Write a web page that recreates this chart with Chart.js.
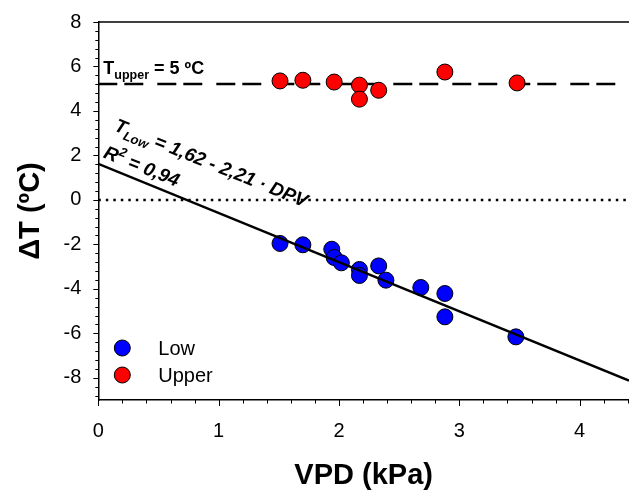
<!DOCTYPE html>
<html>
<head>
<meta charset="utf-8">
<script src="https://cdn.jsdelivr.net/npm/chart.js@4.4.0/dist/chart.umd.min.js"></script>
<style>
  html, body { margin: 0; padding: 0; background: #fff; }
  canvas { display: block; }
</style>
</head>
<body>
<canvas id="myChart" width="629" height="492"></canvas>
<script>
// canopy - air temperature difference vs vapour pressure deficit
const lowVpd = [1.51, 1.70, 1.94, 1.96, 2.02, 2.17, 2.17, 2.33, 2.39, 2.68, 2.88, 2.88, 3.47];
const lowDeltaT = [-1.96, -2.02, -2.22, -2.59, -2.83, -3.13, -3.40, -2.97, -3.61, -3.94, -4.21, -5.26, -6.16];
const upperVpd = [1.51, 1.70, 1.96, 2.17, 2.33, 2.17, 2.88, 3.48];
const upperDeltaT = [5.35, 5.38, 5.30, 5.16, 4.93, 4.53, 5.75, 5.26];

// fitted line T_Low = 1.62 - 2.21 * VPD
const fitIntercept = 1.62;
const fitSlope = -2.21;
const lineVpd = [0, 4.41];

const xTicks = [0, 1, 2, 3, 4];
const yTicks = [-8, -6, -4, -2, 0, 2, 4, 6, 8];

const FONT = "'Liberation Sans', Arial, sans-serif";
Chart.defaults.font.family = FONT;
Chart.defaults.color = '#000';

const upperMean = upperDeltaT.reduce((s, v) => s + v, 0) / upperDeltaT.length;

const toPoints = (xs, ys) => xs.map((v, i) => ({ x: v, y: ys[i] }));

// setup
const data = {
  datasets: [
    {
      label: 'Low',
      data: toPoints(lowVpd, lowDeltaT),
      backgroundColor: '#0000ff',
      borderColor: '#000',
      borderWidth: 1,
      pointRadius: 8,
      order: 3,
    },
    {
      label: 'Upper',
      data: toPoints(upperVpd, upperDeltaT),
      backgroundColor: '#ff0000',
      borderColor: '#000',
      borderWidth: 1,
      pointRadius: 8,
      order: 1,
    },
    {
      label: 'fit',
      data: lineVpd.map(v => ({ x: v, y: fitIntercept + fitSlope * v })),
      showLine: true,
      borderColor: '#000',
      borderWidth: 2.5,
      pointRadius: 0,
      order: 2,
    },
    {
      label: 'upper level',
      data: lineVpd.map(v => ({ x: v, y: upperMean })),
      showLine: true,
      borderColor: '#000',
      borderWidth: 2.5,
      borderDash: [19, 7, 19, 14],
      pointRadius: 0,
      order: 4,
    },
    {
      label: 'zero',
      data: lineVpd.map(v => ({ x: v, y: 0 })),
      showLine: true,
      borderColor: '#000',
      borderWidth: 2.5,
      borderDash: [2.5, 5],
      pointRadius: 0,
      order: 5,
    },
  ],
};

// frame, minor ticks, legend and the two text notes
const extras = {
  id: 'extras',
  afterDraw(chart) {
    const { ctx, chartArea: a, scales: { x, y } } = chart;
    ctx.save();
    ctx.strokeStyle = '#000';
    ctx.lineWidth = 1.5;
    ctx.beginPath();
    ctx.moveTo(a.left, a.top);
    ctx.lineTo(a.right, a.top);
    ctx.stroke();

    ctx.lineWidth = 1;
    for (let i = 0; i <= 22; i++) {
      const px = Math.round(x.getPixelForValue(i * 0.2)) + 0.5;
      const len = i % 5 === 0 ? 6 : 3.5;
      ctx.beginPath();
      ctx.moveTo(px, a.bottom);
      ctx.lineTo(px, a.bottom + len);
      ctx.stroke();
    }
    for (let i = 0; i <= 42; i++) {
      const py = Math.round(y.getPixelForValue(8 - i * 0.4)) + 0.5;
      const len = i % 5 === 0 ? 5 : 3;
      ctx.beginPath();
      ctx.moveTo(a.left, py);
      ctx.lineTo(a.left - len, py);
      ctx.stroke();
    }

    // legend
    const items = chart.data.datasets.filter(d => d.pointRadius > 0);
    items.forEach((d, i) => {
      const cx = a.left + 24;
      const cy = a.bottom - 52 + i * 27;
      ctx.beginPath();
      ctx.arc(cx, cy, 8, 0, Math.PI * 2);
      ctx.fillStyle = d.backgroundColor;
      ctx.fill();
      ctx.lineWidth = 1;
      ctx.stroke();
      ctx.fillStyle = '#000';
      ctx.font = '20px ' + FONT;
      ctx.textBaseline = 'alphabetic';
      ctx.textAlign = 'left';
      ctx.fillText(d.label, a.left + 60, cy + 7);
    });

    // T_upper note
    ctx.fillStyle = '#000';
    let tx = x.getPixelForValue(0.042);
    const ty = y.getPixelForValue(5.68);
    ctx.font = 'bold 18px ' + FONT;
    ctx.fillText('T', tx, ty);
    tx += ctx.measureText('T').width;
    ctx.font = 'bold 12.5px ' + FONT;
    ctx.fillText('upper', tx, ty + 5);
    tx += ctx.measureText('upper').width;
    ctx.font = 'bold 18px ' + FONT;
    ctx.fillText(' = 5 \u00baC', tx, ty);

    // regression note, laid along the fitted line
    const angle = 22 * Math.PI / 180;
    const runs = (parts, px, py) => {
      ctx.save();
      ctx.translate(px, py);
      ctx.rotate(angle);
      let off = 0;
      parts.forEach(([text, size, dy]) => {
        ctx.font = 'italic bold ' + size + 'px ' + FONT;
        ctx.fillText(text, off, dy);
        off += ctx.measureText(text).width;
      });
      ctx.restore();
    };
    runs([['T', 19, 0], ['Low', 13, 5], [' = 1,62 - 2,21 \u00b7 DPV', 19, 0]],
      x.getPixelForValue(0.125), y.getPixelForValue(3.13));
    runs([['R', 19, 0], ['2', 13, -8], [' = 0,94', 19, 0]],
      x.getPixelForValue(0.035), y.getPixelForValue(1.92));
    ctx.restore();
  },
};

// keep tick label overflow from shrinking the plot area
const noPad = (scale) => {
  scale.paddingTop = 0;
  scale.paddingBottom = 0;
  scale.paddingLeft = 0;
  scale.paddingRight = 0;
};

// config
const config = {
  type: 'scatter',
  data,
  options: {
    responsive: false,
    animation: false,
    events: [],
    layout: { autoPadding: false, padding: { top: 22, right: 0, left: 0, bottom: 0 } },
    plugins: { legend: { display: false }, tooltip: { enabled: false } },
    scales: {
      x: {
        type: 'linear',
        position: 'bottom',
        min: 0,
        max: 4.41,
        afterBuildTicks: (scale) => { scale.ticks = xTicks.map(v => ({ value: v })); },
        afterFit: (scale) => { scale.height = 92; noPad(scale); },
        grid: { display: false, drawTicks: false },
        border: { display: true, color: '#000', width: 1.5 },
        ticks: { font: { size: 20 }, color: '#000', padding: 19, maxRotation: 0 },
        title: {
          display: true,
          text: 'VPD (kPa)',
          color: '#000',
          font: { size: 29, weight: 'bold', lineHeight: 1 },
          padding: { top: 0, bottom: 2 },
        },
      },
      y: {
        type: 'linear',
        min: -9,
        max: 8,
        afterBuildTicks: (scale) => { scale.ticks = yTicks.map(v => ({ value: v })); },
        afterFit: (scale) => { scale.width = 98.3; noPad(scale); },
        grid: { display: false, drawTicks: false },
        border: { display: true, color: '#000', width: 1.5 },
        ticks: { font: { size: 20 }, color: '#000', padding: 17 },
        title: {
          display: true,
          text: '\u0394T (\u00baC)',
          color: '#000',
          font: { size: 29, weight: 'bold', lineHeight: 1 },
          padding: { top: 16, bottom: 0 },
        },
      },
    },
  },
  plugins: [extras],
};

// render init block
const myChart = new Chart(document.getElementById('myChart'), config);
</script>
</body>
</html>
